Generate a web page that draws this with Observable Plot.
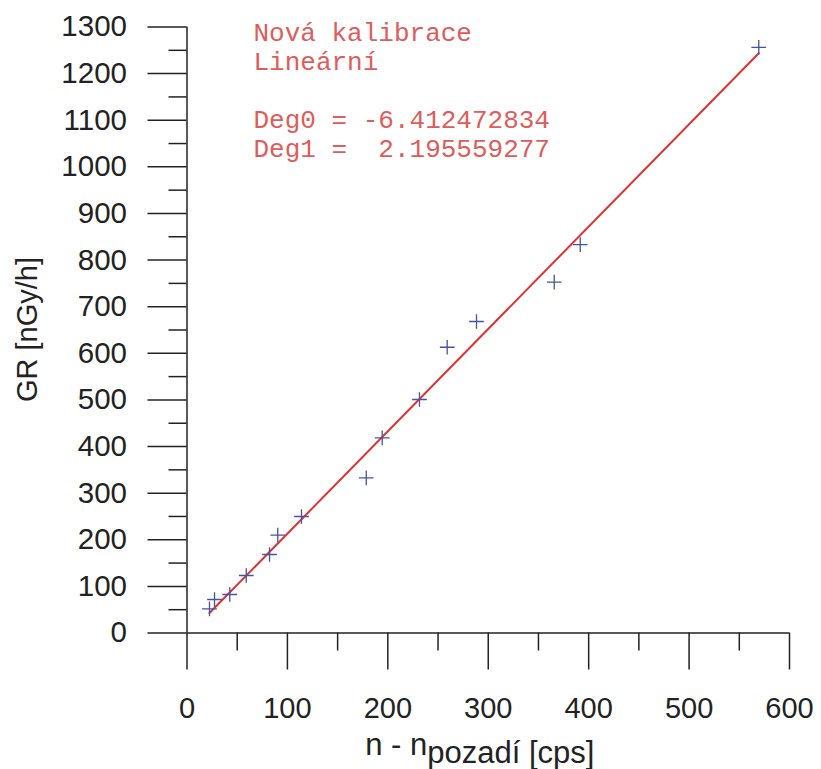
<!DOCTYPE html>
<html><head><meta charset="utf-8">
<script src="https://cdn.jsdelivr.net/npm/d3@7"></script>
<script src="https://cdn.jsdelivr.net/npm/@observablehq/plot@0.6"></script>
<style>
body{margin:0;background:#fff;}
#chart svg text{white-space:pre;}
</style></head><body><div id="chart"></div>
<script>
const xs = [22.4, 27.4, 42.6, 59.0, 82.2, 90.4, 114.0, 178.5, 194.4, 231.5, 259.1, 288.3, 365.7, 391.6, 569.4];
const ys = [51.9, 71.9, 82.6, 123.3, 168.4, 209.8, 249.9, 332.9, 418.7, 500.9, 613.0, 668.2, 752.5, 833.3, 1256.5];
const deg0 = -6.412472834;
const deg1 = 2.195559277;
const xTicks = [0, 100, 200, 300, 400, 500, 600];
const xMinor = [50, 150, 250, 350, 450, 550];
const yTicks = [0, 100, 200, 300, 400, 500, 600, 700, 800, 900, 1000, 1100, 1200, 1300];
const yMinor = [50, 150, 250, 350, 450, 550, 650, 750, 850, 950, 1050, 1150, 1250];
const notes = ["Nová kalibrace", "Lineární", "", "Deg0 = -6.412472834", "Deg1 =  2.195559277"];
const xTitleMain = "n - n";
const xTitleSub = "pozadí [cps]";
const yTitle = "GR [nGy/h]";

const pts = xs.map((x, i) => ({x, y: ys[i]}));
const fit = [d3.min(xs), d3.max(xs)].map(x => ({x, y: deg0 + deg1 * x}));

const plot = Plot.plot({
  width: 821, height: 769,
  marginLeft: 186.5, marginRight: 32, marginTop: 26.5, marginBottom: 136.5,
  x: {domain: [0, 600]},
  y: {domain: [0, 1300]},
  style: {fontFamily: "'Liberation Sans', Arial, sans-serif", color: "#222", background: "white"},
  marks: [
    Plot.axisX({ticks: xTicks, tickSize: 37, tickPadding: 27, fontSize: 29, label: null, strokeWidth: 1.5, tickFormat: d => String(d)}),
    Plot.axisX({ticks: xMinor, tickSize: 18, text: null, label: null, strokeWidth: 1.5}),
    Plot.axisY({ticks: yTicks, tickSize: 39, tickPadding: 21, fontSize: 29.5, label: null, strokeWidth: 1.5, tickFormat: d => String(d)}),
    Plot.axisY({ticks: yMinor, tickSize: 18, text: null, label: null, strokeWidth: 1.5}),
    Plot.ruleX([0], {strokeWidth: 1.5}),
    Plot.ruleY([0], {strokeWidth: 1.5}),
    Plot.line(fit, {x: "x", y: "y", stroke: "#dd3333", strokeWidth: 2}),
    Plot.dot(pts, {x: "x", y: "y", symbol: "plus", r: 4.8, stroke: "#44549e", strokeWidth: 1.3}),
    Plot.text([notes.join("\n")], {frameAnchor: "top-left", dx: 66.5, dy: -7, fontFamily: "'Liberation Mono', 'DejaVu Sans Mono', monospace", fontSize: 26, fill: "#de5c5c", textAnchor: "start", lineAnchor: "top", lineHeight: 1.12})
  ]
});

const svg = d3.select(plot);
const xr = plot.scale("x").range;
const yr = plot.scale("y").range;
const xt = svg.append("text")
  .attr("x", (xr[0] + xr[1]) / 2 - 8)
  .attr("y", 755)
  .attr("text-anchor", "middle")
  .attr("font-size", 31)
  .attr("fill", "#222");
xt.append("tspan").text(xTitleMain);
xt.append("tspan").attr("dy", 8).text(xTitleSub);

svg.append("text")
  .attr("transform", `translate(37,${(yr[0] + yr[1]) / 2}) rotate(-90)`)
  .attr("text-anchor", "middle")
  .attr("font-size", 29)
  .attr("fill", "#222")
  .text(yTitle);

document.getElementById("chart").appendChild(plot);
</script></body></html>
